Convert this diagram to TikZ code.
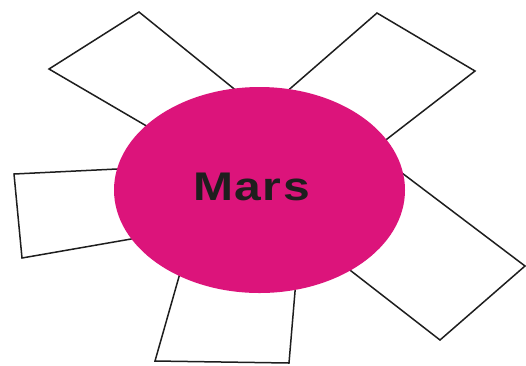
\documentclass[tikz,border=0pt]{standalone}
\usepackage{fontspec}
\usepackage{tikz}
\usetikzlibrary{shapes.geometric}
\newfontfamily\marsfont[FakeStretch=1.2,LetterSpace=4]{Liberation Sans}
\definecolor{marsmagenta}{HTML}{DC147B}
\definecolor{boxline}{HTML}{1E1E1E}

\begin{document}
\begin{tikzpicture}[
    x=1pt,y=-1pt,
    box/.style={draw=boxline,line width=1.5pt,fill=white,line join=miter},
    planet/.style={ellipse,fill=marsmagenta,inner sep=0pt,
      minimum width=291pt,minimum height=206pt},
    title/.style={font=\marsfont\bfseries\fontsize{40}{40}\selectfont,text=boxline,inner sep=0pt}
  ]
    \useasboundingbox (0,0) rectangle (526,365);
    % blank boxes behind the planet
    \draw[box] (49,69) -- (139,12) -- (280,126) -- (203,159) -- cycle;
    \draw[box] (377,13) -- (475,71) -- (334,180) -- (249.5,124) -- cycle;
    \draw[box] (14,174) -- (168.5,166.5) -- (177,231) -- (22,258) -- cycle;
    \draw[box] (155,361) -- (190,238) -- (298,256) -- (289,363) -- cycle;
    \draw[box] (340.5,126.5) -- (525,266) -- (440,340) -- (321,247.6) -- cycle;
    % planet
    \node[planet] (mars) at (259.5,190) {};
    \node[title] (marstext) at (251.5,187) {Mars};
  \end{tikzpicture}
\end{document}
